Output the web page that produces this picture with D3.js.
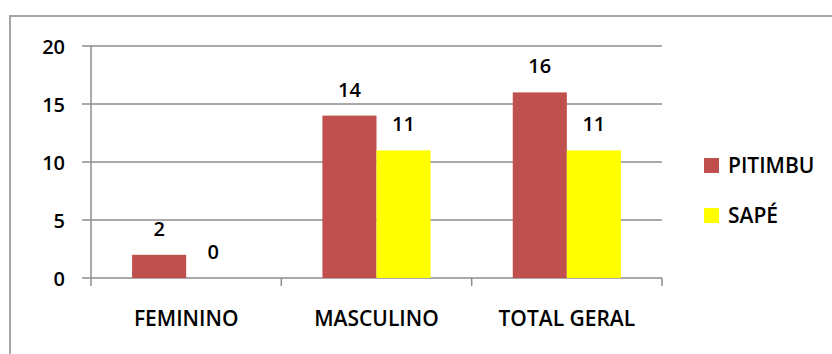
<!DOCTYPE html>
<html>
<head>
<meta charset="utf-8">
<script src="https://cdnjs.cloudflare.com/ajax/libs/d3/7.8.5/d3.min.js"></script>
<style>
  body { margin: 0; background: #fff; }
  svg text { font-family: "Open Sans", sans-serif; fill: #000; font-weight: 600; }
</style>
</head>
<body>
<div id="chart-area"></div>
<script>
var categories = ["FEMININO", "MASCULINO", "TOTAL GERAL"];
var seriesNames = ["PITIMBU", "SAPÉ"];
var pitimbu = [2, 14, 16];
var sape = [0, 11, 11];
var yTicks = [0, 5, 10, 15, 20];
var colors = ["#C0504D", "#FFFF00"];

var width = 832, height = 354;
var margin = {top: 46, left: 91, right: 170, bottom: 76};

var svg = d3.select("#chart-area").append("svg").attr("width", width).attr("height", height);

// outer chart border (only left and top show in the frame)
svg.append("rect").attr("x", 10).attr("y", 16).attr("width", 840).attr("height", 360)
  .attr("fill", "none").attr("stroke", "#a6a6a6").attr("stroke-width", 2);

var x = d3.scaleBand().domain(categories).range([margin.left, width - margin.right]).paddingInner(0).paddingOuter(0);
var x1 = d3.scaleBand().domain(seriesNames).range([0, x.bandwidth()]).paddingOuter(0.76).paddingInner(0);
var y = d3.scaleLinear().domain([0, 20]).range([height - margin.bottom, margin.top]);

// gridlines
svg.append("g").selectAll("line").data(yTicks).enter().append("line")
  .attr("x1", margin.left - 9).attr("x2", width - margin.right)
  .attr("y1", (d) => { return y(d); }).attr("y2", (d) => { return y(d); })
  .attr("stroke", "#8c8c8c").attr("stroke-width", 1.5);

// y axis
var leftAxis = d3.axisLeft(y).tickValues(yTicks).tickSize(0).tickPadding(26);
var ga = svg.append("g").attr("transform", "translate(" + margin.left + ",0)").call(leftAxis);
ga.select(".domain").remove();
ga.selectAll("text").attr("font-size", "20px").attr("dy", "0.36em");
svg.append("line").attr("x1", margin.left).attr("x2", margin.left)
  .attr("y1", y(20)).attr("y2", y(0) + 8).attr("stroke", "#8c8c8c").attr("stroke-width", 1.5);

// x axis
var bottomAxis = d3.axisBottom(x).tickSize(0).tickPadding(33);
var gx = svg.append("g").attr("transform", "translate(0," + y(0) + ")").call(bottomAxis);
gx.select(".domain").remove();
gx.selectAll("text").attr("font-size", "21px");
var bounds = categories.map((c) => { return x(c) + x.bandwidth(); });
svg.append("g").selectAll("line").data(bounds).enter().append("line")
  .attr("x1", (d) => { return d; }).attr("x2", (d) => { return d; })
  .attr("y1", y(0)).attr("y2", y(0) + 8).attr("stroke", "#8c8c8c").attr("stroke-width", 1.5);

// bars
var series = [pitimbu, sape];
series.forEach((vals, si) => {
  var g = svg.append("g");
  g.selectAll("rect").data(vals).enter().append("rect")
    .attr("x", (d, i) => { return x(categories[i]) + x1(seriesNames[si]); })
    .attr("y", (d) => { return y(d); })
    .attr("width", x1.bandwidth())
    .attr("height", (d) => { return y(0) - y(d); })
    .attr("fill", colors[si]);
  g.selectAll("text").data(vals).enter().append("text")
    .attr("x", (d, i) => { return x(categories[i]) + x1(seriesNames[si]) + x1.bandwidth() / 2; })
    .attr("y", (d) => { return y(d) - 19; })
    .attr("text-anchor", "middle").attr("font-size", "20px")
    .text((d) => { return d; });
});

// legend
var legend = svg.append("g").attr("transform", "translate(704,158)");
seriesNames.forEach((s, i) => {
  legend.append("rect").attr("x", 0).attr("y", i * 50).attr("width", 15).attr("height", 15).attr("fill", colors[i]);
  legend.append("text").attr("x", 24).attr("y", i * 50 + 15).attr("font-size", "21px").text(s);
});
</script>
</body>
</html>
